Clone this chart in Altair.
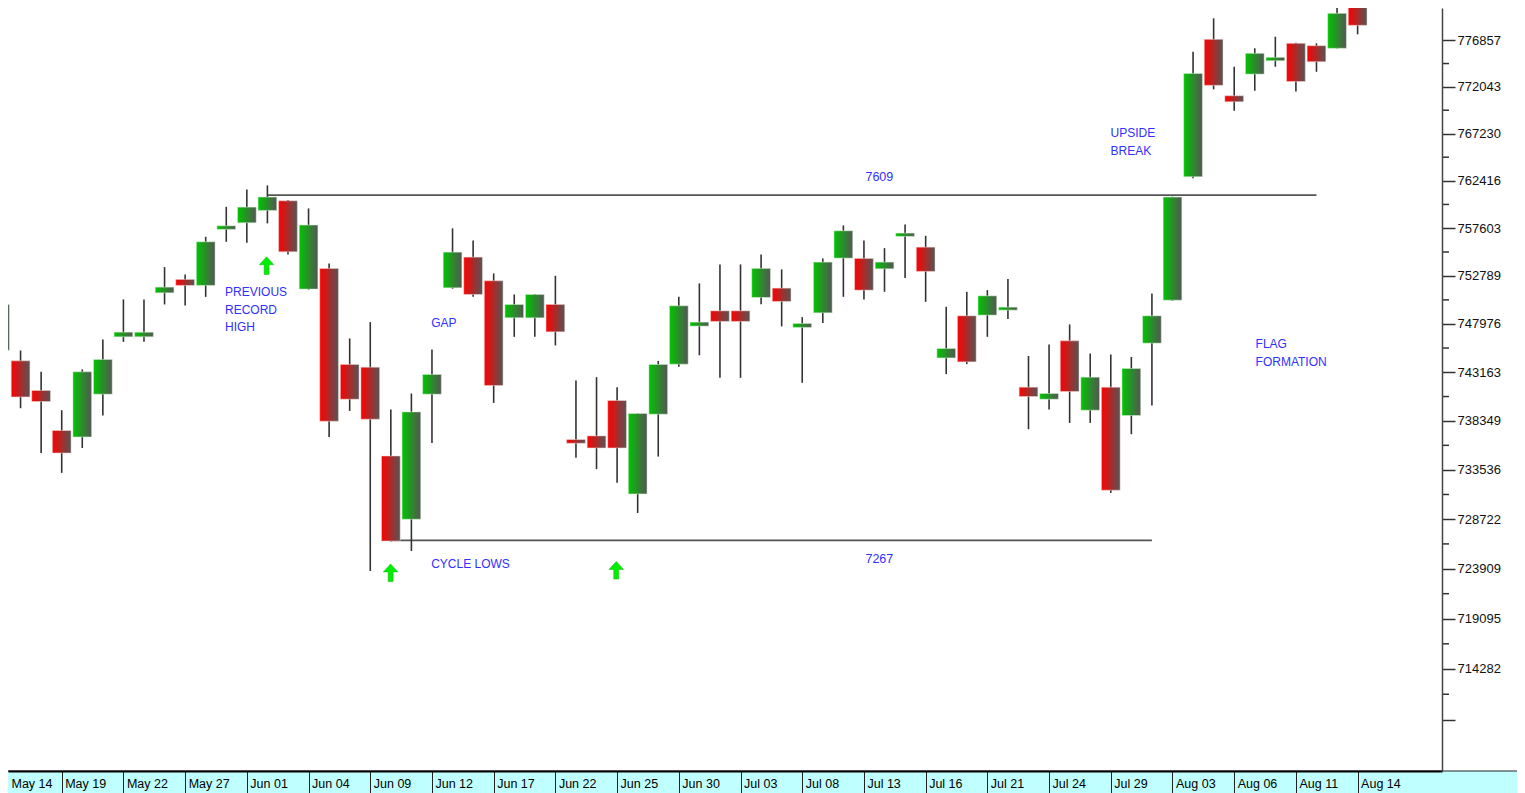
import json
import altair as alt
import pandas as pd

# ---- candle data (index units x 100) ----
opens = [745357, 744295, 741356, 737401, 736770, 740988, 746687, 746687, 751089, 752437,
         751833, 757482, 758149, 759404, 760378, 751461, 753544, 743938, 743669, 734895,
         728712, 740988, 751592, 754680, 752296, 748586, 748586, 749925, 736513, 736869,
         740362, 731184, 739010, 743968, 747756, 749284, 749284, 750626, 751561, 747626,
         749085, 754580, 754550, 753504, 756773, 755686, 744586, 748786, 748856, 749355,
         741683, 740492, 746287, 739405, 741683, 738882, 746057, 750354, 762824, 776961,
         771125, 773359, 774740, 776546, 776296, 776027, 780449]
highs = [751531, 745327, 743203, 739405, 743441, 746427, 750425, 750425, 753674, 752940,
         756733, 759769, 761540, 761947, 760450, 759607, 754047, 746527, 748156, 739474,
         741058, 745427, 757583, 756369, 753041, 750927, 750960, 752799, 742349, 742676,
         741683, 739100, 744295, 750686, 752034, 753946, 753946, 754952, 753443, 748656,
         754550, 757886, 756369, 755585, 757988, 756834, 749685, 751190, 751360, 752467,
         744785, 745926, 747926, 745027, 744927, 744686, 751029, 760800, 775674, 779141,
         774117, 776027, 777231, 776600, 776546, 781500, 780698]
lows = [745157, 739602, 735191, 733242, 735684, 738882, 746187, 746187, 749925, 749825,
        750686, 756227, 756126, 758088, 754952, 751400, 736770, 739336, 723696, 726550,
        725630, 736178, 751500, 750686, 740126, 746687, 746687, 745826, 734712, 733605,
        732262, 729326, 734836, 743699, 744850, 742607, 742607, 749955, 747726, 742110,
        748056, 750686, 750425, 751190, 752568, 750184, 742975, 743968, 746687, 748456,
        737530, 739474, 738152, 738152, 731282, 737036, 739869, 750300, 762661, 771785,
        769577, 771640, 774117, 771563, 773598, 776000, 777480]
closes = [749925, 740720, 740263, 735191, 743203, 744434, 747156, 747156, 751662, 751833,
          756227, 757846, 759738, 760755, 755213, 757917, 738319, 740492, 738517, 726599,
          739237, 742945, 755183, 750927, 741852, 749925, 750927, 747186, 736148, 735684,
          735684, 739079, 743938, 749785, 748156, 748226, 748226, 753544, 750225, 748026,
          754178, 757340, 751360, 754178, 757107, 753242, 745527, 744194, 750786, 749655,
          740759, 741058, 741256, 742676, 731547, 743539, 748786, 760755, 773432, 772198,
          770505, 775508, 775092, 772593, 774637, 779660, 778414]

date_labels = ["May 14", "May 19", "May 22", "May 27", "Jun 01", "Jun 04", "Jun 09",
               "Jun 12", "Jun 17", "Jun 22", "Jun 25", "Jun 30", "Jul 03", "Jul 08",
               "Jul 13", "Jul 16", "Jul 21", "Jul 24", "Jul 29", "Aug 03", "Aug 06",
               "Aug 11", "Aug 14"]
date_tick_index = list(range(0, 3 * len(date_labels), 3))

y_major = [709468, 714282, 719095, 723909, 728722, 733536, 738349, 743163, 747976,
           752789, 757603, 762416, 767230, 772043, 776857]
y_minor = [711875, 716689, 721502, 726316, 731129, 735943, 740756, 745570, 750383,
           755196, 760010, 764823, 769637, 774450]

# support / resistance levels
level_values = [760950, 726650]
level_start = [13, 19]
level_end = [64, 56]
level_text = ["7609", "7267"]
level_text_x = [42.75, 42.75]
level_text_y = [762793, 724828]

# annotations
note_texts = ["PREVIOUS", "RECORD", "HIGH", "GAP", "CYCLE LOWS", "UPSIDE", "BREAK",
              "FLAG", "FORMATION"]
note_x = [10.94, 10.94, 10.94, 20.96, 20.96, 53.99, 53.99, 61.04, 61.04]
note_y = [751159, 749405, 747656, 748056, 724344, 767292, 765442, 745957, 744166]

arrow_x = [12.96, 18.99, 29.96]
arrow_y = [753825, 723522, 723764]

# ---- frames ----
candles = pd.DataFrame({"i": list(range(len(opens))), "open": opens, "high": highs,
                        "low": lows, "close": closes})
levels = pd.DataFrame({"start": level_start, "end": level_end, "v": level_values})
level_labels = pd.DataFrame({"x": level_text_x, "y": level_text_y, "t": level_text})
notes = pd.DataFrame({"x": note_x, "y": note_y, "t": note_texts})
arrows = pd.DataFrame({"x": arrow_x, "y": arrow_y})
minor = pd.DataFrame({"v": y_minor})
dates = pd.DataFrame({"i": date_tick_index, "t": date_labels})

PW, PH = 1434, 763
X0 = 0.389
XS = alt.Scale(domain=[X0, 70.102], nice=False, zero=False)
YS = alt.Scale(type="log", domain=[704614, 780217], nice=False)
FONT = "Liberation Sans"
BLUE = "#3030ff"

X_AXIS = alt.Axis(values=date_tick_index, labels=False, title=None, orient="bottom",
                  domainColor="#000", domainWidth=2, tickColor="#222", tickWidth=1,
                  tickSize=22, grid=False, zindex=1)
Y_AXIS = alt.Axis(orient="right", values=y_major, format="d",
                  labelExpr=f"datum.value == {y_major[0]} ? '' : datum.label",
                  title=None, tickSize=13, tickColor="#333", tickWidth=1.5,
                  domainColor="#444", domainWidth=1.5, labelPadding=2, labelFont=FONT,
                  labelFontSize=13, labelColor="#111", labelOverlap=False, grid=False,
                  zindex=1)


def X(field):
    return alt.X(field, scale=XS, axis=X_AXIS)


def Y(field):
    return alt.Y(field, scale=YS, axis=Y_AXIS)


strip = alt.Chart(pd.DataFrame({"a": [0]})).mark_rect(
    fill="#c0ffff", stroke="#222", strokeWidth=1).encode(
    x=alt.value(-2), x2=alt.value(1520), y=alt.value(PH), y2=alt.value(PH + 30))

date_text = alt.Chart(dates).transform_calculate(
    xl=f"max(datum.i, {X0})").mark_text(
    font=FONT, fontSize=12.5, color="#000", align="left", baseline="middle",
    dx=3.5).encode(x=X("xl:Q"), y=alt.value(PH + 12.5), text="t:N")

level_rules = alt.Chart(levels).mark_rule(color="#555555", strokeWidth=1.8).encode(
    x=X("start:Q"), x2="end:Q", y=Y("v:Q"))

wicks = alt.Chart(candles).mark_rule(color="#333333", strokeWidth=1.6).encode(
    x=X("i:Q"), y=Y("low:Q"), y2="high:Q")

green_grad = alt.Gradient(gradient="linear",
                          stops=[alt.GradientStop(color="#00c400", offset=0),
                                 alt.GradientStop(color="#555555", offset=1)],
                          x1=0, x2=1, y1=0, y2=0)
red_grad = alt.Gradient(gradient="linear",
                        stops=[alt.GradientStop(color="#ff0000", offset=0),
                               alt.GradientStop(color="#555555", offset=1)],
                        x1=0, x2=1, y1=0, y2=0)

body_base = alt.Chart(candles).transform_calculate(
    x0="datum.i - 0.455", x1="datum.i + 0.455")
up_bodies = body_base.transform_filter("datum.close >= datum.open").mark_rect(
    color=green_grad, stroke="#d8f0d8", strokeWidth=0.5).encode(
    x=X("x0:Q"), x2="x1:Q", y=Y("open:Q"), y2="close:Q")
down_bodies = body_base.transform_filter("datum.close < datum.open").mark_rect(
    color=red_grad, stroke="#f0d8d8", strokeWidth=0.5).encode(
    x=X("x0:Q"), x2="x1:Q", y=Y("open:Q"), y2="close:Q")

minor_ticks = alt.Chart(minor).mark_rule(color="#333333", strokeWidth=1.5).encode(
    x=alt.value(PW), x2=alt.value(PW + 7), y=Y("v:Q"))

level_text_layer = alt.Chart(level_labels).mark_text(
    font=FONT, fontSize=12.5, color=BLUE, align="center", baseline="middle").encode(
    x=X("x:Q"), y=Y("y:Q"), text="t:N")

notes_layer = alt.Chart(notes).mark_text(
    font=FONT, fontSize=12, color=BLUE, align="left", baseline="middle").encode(
    x=X("x:Q"), y=Y("y:Q"), text="t:N")

ARROW = "M0,-1L0.82,-0.1L0.28,-0.1L0.28,1L-0.28,1L-0.28,-0.1L-0.82,-0.1Z"
arrow_layer = alt.Chart(arrows).mark_point(
    shape=ARROW, filled=True, fill="#00ee00", stroke="#22bb22", strokeWidth=0.6,
    size=310, opacity=1).encode(x=X("x:Q"), y=Y("y:Q"))

chart = alt.layer(
    strip, level_rules, wicks, up_bodies, down_bodies, minor_ticks,
    level_text_layer, notes_layer, arrow_layer, date_text
).properties(
    width=PW, height=PH,
    autosize=alt.AutoSizeParams(type="none"),
    padding={"left": 0, "top": 0, "right": 75, "bottom": 22},
    background="white",
).configure_view(stroke=None)

chart.save("out.html", embed_options={"renderer": "svg", "actions": False})
